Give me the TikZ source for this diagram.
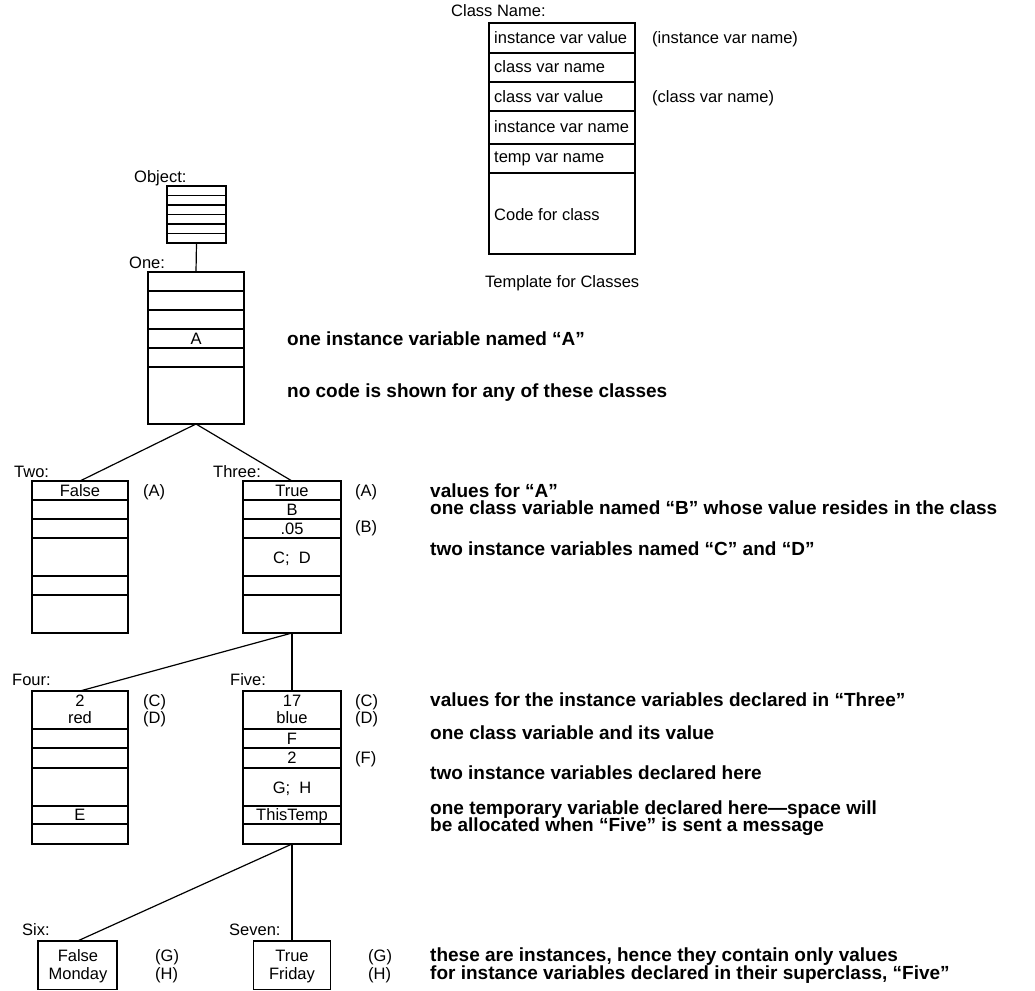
\documentclass[tikz,border=0pt]{standalone}
\usepackage{fontspec}
\setmainfont{Liberation Sans}
\begin{document}
\begin{tikzpicture}[x=1pt,y=-1pt,
  box/.style={draw, line width=1.2pt, inner sep=0, outer sep=0, anchor=north west},
  rl/.style={line width=1.1pt},
  con/.style={line width=1.2pt},
  t/.style={inner sep=0, font=\fontsize{16.5}{18}\selectfont, anchor=base},
  tl/.style={t, anchor=base west},
  note/.style={inner sep=0, anchor=base west, font=\fontsize{19}{21}\selectfont\bfseries}]
\useasboundingbox (0,0) rectangle (1035,990);

% ---------- Template ----------
\node[tl] (cn) at (451,17) {Class Name:};
\node[box, minimum width=146, minimum height=231] (tpl) at (489,23) {};
\foreach \yy in {53,82,111,144,173} \draw[rl] (489,\yy) -- (635,\yy);
\node[tl] (tp1) at (494,44) {instance var value};
\node[tl] (tp2) at (494,73) {class var name};
\node[tl] (tp3) at (494,102) {class var value};
\node[tl] (tp4) at (494,132) {instance var name};
\node[tl] (tp5) at (494,162) {temp var name};
\node[tl] (tp6) at (494,220) {Code for class};
\node[tl] (tpa) at (652,44) {(instance var name)};
\node[tl] (tpb) at (652,102) {(class var name)};
\node[tl] (tpc) at (485,287) {Template for Classes};

% ---------- Object ----------
\node[tl] (objl) at (134,182) {Object:};
\node[box, minimum width=59, minimum height=57] (obj) at (167,186) {};
\foreach \yy in {195.5,205,214.5,224,233.5} \draw[rl] (167,\yy) -- (226,\yy);

% ---------- One ----------
\node[tl] (onel) at (129,268) {One:};
\node[box, minimum width=96, minimum height=152] (one) at (148,272) {};
\foreach \yy in {291,310,329,348,367} \draw[rl] (148,\yy) -- (244,\yy);
\node[t] (oneA) at (196,344) {A};
\draw[con] (obj.south) -- (one.north);

\node[note] (n1) at (287,345) {one instance variable named “A”};
\node[note] (n2) at (287,397) {no code is shown for any of these classes};

% ---------- Two ----------
\node[tl] (twol) at (14,477) {Two:};
\node[box, minimum width=96, minimum height=152] (two) at (32,481) {};
\foreach \yy in {500,519,538,576,595} \draw[rl] (32,\yy) -- (128,\yy);
\node[t] (twoa) at (80,496) {False};
\node[tl] (twoA) at (143,496) {(A)};

% ---------- Three ----------
\node[tl] (threel) at (213,477) {Three:};
\node[box, minimum width=98, minimum height=152] (three) at (243,481) {};
\foreach \yy in {500,519,538,576,595} \draw[rl] (243,\yy) -- (341,\yy);
\node[t] (thra) at (292,496) {True};
\node[t] (thrb) at (292,515) {B};
\node[t] (thrc) at (292,534) {.05};
\node[t] (thrd) at (292,563) {C;\ \ D};
\node[tl] (thrA) at (355,496) {(A)};
\node[tl] (thrB) at (355,532) {(B)};

\draw[con] (one.south) -- (two.north);
\draw[con] (one.south) -- (three.north);

\node[note] (n3) at (430,497) {values for “A”};
\node[note] (n4) at (430,514) {one class variable named “B” whose value resides in the class};
\node[note] (n5) at (430,555) {two instance variables named “C” and “D”};

% ---------- Four ----------
\node[tl] (fourl) at (12,685) {Four:};
\node[box, minimum width=96, minimum height=153] (four) at (32,691) {};
\foreach \yy in {729,748,768,806,824} \draw[rl] (32,\yy) -- (128,\yy);
\node[t] (foa) at (80,706) {2};
\node[t] (fob) at (80,723) {red};
\node[t] (foe) at (80,820) {E};
\node[tl] (foC) at (143,706) {(C)};
\node[tl] (foD) at (143,723) {(D)};

% ---------- Five ----------
\node[tl] (fivel) at (230,685) {Five:};
\node[box, minimum width=98, minimum height=153] (five) at (243,691) {};
\foreach \yy in {729,748,768,806,824} \draw[rl] (243,\yy) -- (341,\yy);
\node[t] (fia) at (292,706) {17};
\node[t] (fib) at (292,723) {blue};
\node[t] (fic) at (292,744) {F};
\node[t] (fid) at (292,763) {2};
\node[t] (fie) at (292,793) {G;\ \ H};
\node[t] (fif) at (292,820) {ThisTemp};
\node[tl] (fiC) at (355,706) {(C)};
\node[tl] (fiD) at (355,723) {(D)};
\node[tl] (fiF) at (355,763) {(F)};

\draw[con] (three.south) -- (four.north);
\draw[con] (three.south) -- (five.north);

\node[note] (n6) at (430,706) {values for the instance variables declared in “Three”};
\node[note] (n7) at (430,739) {one class variable and its value};
\node[note] (n8) at (430,779) {two instance variables declared here};
\node[note] (n9) at (430,814) {one temporary variable declared here—space will};
\node[note] (n10) at (430,831) {be allocated when “Five” is sent a message};

% ---------- Six / Seven ----------
\node[tl] (sixl) at (22,935) {Six:};
\node[box, minimum width=79, minimum height=48.5] (six) at (38,941) {};
\node[t] (sia) at (78,961) {False};
\node[t] (sib) at (78,979) {Monday};
\node[tl] (siG) at (155,961) {(G)};
\node[tl] (siH) at (155,979) {(H)};

\node[tl] (sevl) at (229,935) {Seven:};
\node[box, minimum width=77, minimum height=48.5] (seven) at (253.5,941) {};
\node[t] (sea) at (292,961) {True};
\node[t] (seb) at (292,979) {Friday};
\node[tl] (seG) at (368,961) {(G)};
\node[tl] (seH) at (368,979) {(H)};

\draw[con] (five.south) -- (six.north);
\draw[con] (five.south) -- (seven.north);

\node[note] (n11) at (430,961) {these are instances, hence they contain only values};
\node[note] (n12) at (430,979) {for instance variables declared in their superclass, “Five”};
\end{tikzpicture}
\end{document}
